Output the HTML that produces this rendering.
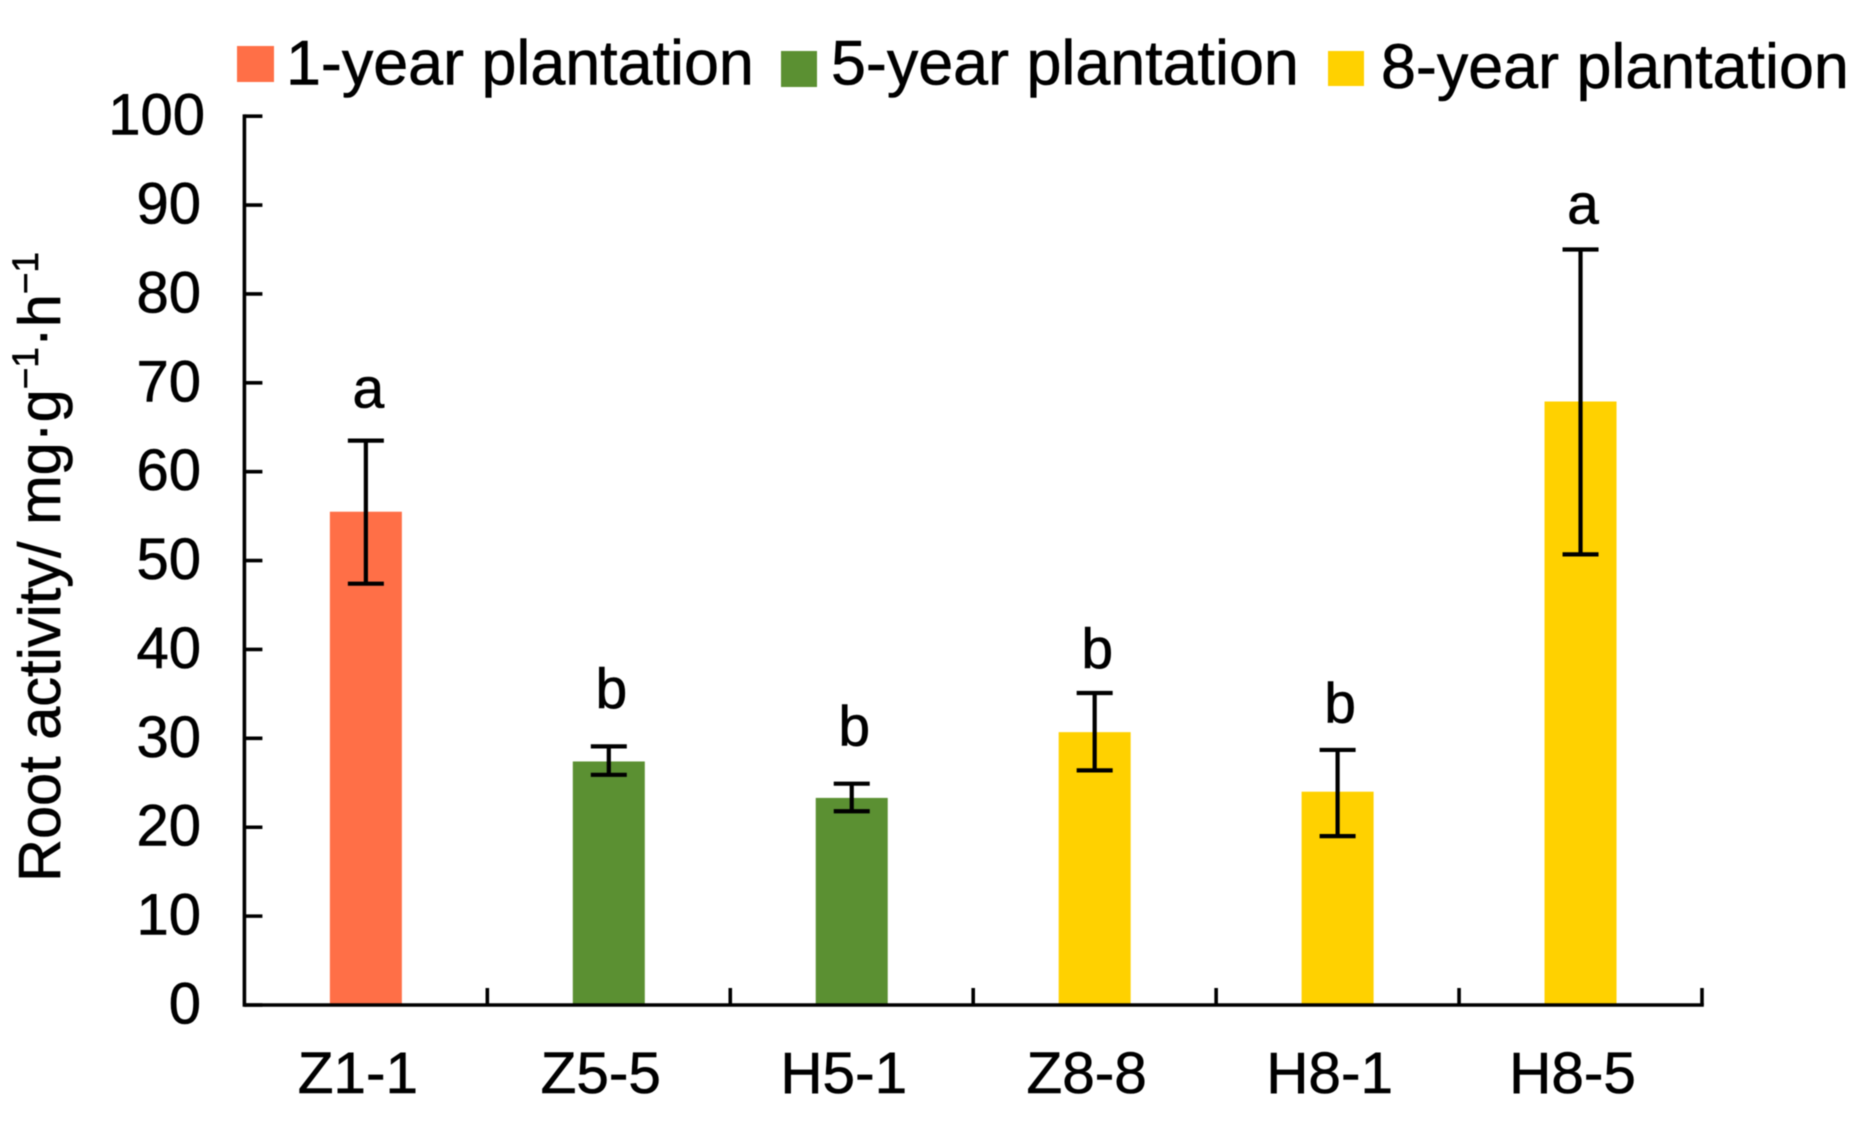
<!DOCTYPE html>
<html>
<head>
<meta charset="utf-8">
<title>Root activity chart</title>
<style>
html,body{margin:0;padding:0;background:#fff;width:1856px;height:1128px;overflow:hidden}
svg{display:block;filter:blur(0.5px)}
text{font-family:"Liberation Sans",Arial,sans-serif;fill:#000;stroke:#000;stroke-width:0.6px}
</style>
</head>
<body>
<svg id="chart" width="1856" height="1128" viewBox="0 0 1856 1128" xmlns="http://www.w3.org/2000/svg">
  <rect x="0" y="0" width="1856" height="1128" fill="#ffffff"/>
  <g>
    <g>
      <rect x="237" y="46" width="37" height="36" fill="#FF6F47"/>
      <text x="286" y="84.5" font-size="62.8">1-year plantation</text>
    </g>
    <g>
      <rect x="781" y="51" width="36" height="36" fill="#5B9032"/>
      <text x="831" y="84.5" font-size="62.8">5-year plantation</text>
    </g>
    <g>
      <rect x="1328" y="51" width="36" height="35" fill="#FFD100"/>
      <text x="1381" y="88" font-size="62.8">8-year plantation</text>
    </g>
  </g>
  <text transform="translate(60,882) rotate(-90)" font-size="59.5">Root activity/ mg·g<tspan font-size="37" dy="-22">−1</tspan><tspan dy="22">·h</tspan><tspan font-size="37" dy="-22">−1</tspan></text>
  <g id="bars"></g>
  <g id="errors"></g>
  <g id="axes"></g>
  <g id="letters"></g>
</svg>
<script>
const categories = ["Z1-1", "Z5-5", "H5-1", "Z8-8", "H8-1", "H8-5"];
const rootActivity = [55.5, 27.4, 23.3, 30.7, 24.0, 67.9];
const errorHigh = [63.5, 29.1, 24.9, 35.1, 28.7, 85.0];
const errorLow = [47.4, 25.9, 21.8, 26.4, 19.0, 50.7];
const plantationGroup = ["1-year", "5-year", "5-year", "8-year", "8-year", "8-year"];
const significance = ["a", "b", "b", "b", "b", "a"];
const significanceGap = [3.7, 4.3, 4.3, 2.8, 3.1, 2.9];
const yTickLabels = [0, 10, 20, 30, 40, 50, 60, 70, 80, 90, 100];

const groupColor = {"1-year": "#FF6F47", "5-year": "#5B9032", "8-year": "#FFD100"};
const plot = {left: 244.4, right: 1702, top: 116.2, bottom: 1005};
const yMax = 100;
function yScale(v) { return plot.bottom - (v / yMax) * (plot.bottom - plot.top); }
function bandWidth() { return (plot.right - plot.left) / categories.length; }
function xEdge(i) { return plot.left + i * bandWidth(); }
function xCenter(i) { return xEdge(i) + bandWidth() / 2; }

const NS = "http://www.w3.org/2000/svg";
function make(parent, tag, props, content) {
  const el = document.createElementNS(NS, tag);
  Object.keys(props).forEach(function (k) { el.setAttribute(k, props[k]); });
  if (content !== undefined) el.textContent = content;
  parent.appendChild(el);
  return el;
}
const barsG = document.getElementById("bars");
const errorsG = document.getElementById("errors");
const axesG = document.getElementById("axes");
const lettersG = document.getElementById("letters");
const barW = 72, capW = 36, lineW = 3.6, errW = 4.2;

categories.forEach(function (cat, i) {
  const c = xCenter(i);
  const key = cat.toLowerCase();
  const bar = make(barsG, "rect", {x: c - barW / 2, y: yScale(rootActivity[i]), width: barW, height: plot.bottom - yScale(rootActivity[i]), fill: groupColor[plantationGroup[i]]});
  
  

  const stem = make(errorsG, "line", {x1: c, x2: c, y1: yScale(errorHigh[i]), y2: yScale(errorLow[i]), stroke: "#000", "stroke-width": errW});
  
  
  const capHigh = make(errorsG, "line", {x1: c - capW / 2, x2: c + capW / 2, y1: yScale(errorHigh[i]), y2: yScale(errorHigh[i]), stroke: "#000", "stroke-width": errW});
  
  
  const capLow = make(errorsG, "line", {x1: c - capW / 2, x2: c + capW / 2, y1: yScale(errorLow[i]), y2: yScale(errorLow[i]), stroke: "#000", "stroke-width": errW});
  
  

  const letter = make(lettersG, "text", {x: c + 2.5, y: yScale(errorHigh[i] + significanceGap[i]), "font-size": 57, "text-anchor": "middle"}, significance[i]);
  
  

  const label = make(axesG, "text", {x: c - 8, y: 1093, "font-size": 58.5, "text-anchor": "middle"}, cat);
  
  

  const tick = make(axesG, "line", {x1: xEdge(i + 1), x2: xEdge(i + 1), y1: plot.bottom, y2: plot.bottom - 17, stroke: "#000", "stroke-width": lineW});
  
  
});

yTickLabels.forEach(function (v) {
  const y = yScale(v);
  const tick = make(axesG, "line", {x1: plot.left, x2: plot.left + 18, y1: y, y2: y, stroke: "#000", "stroke-width": lineW});
  
  
  const label = make(axesG, "text", {x: v >= 100 ? 205 : 201, y: y + 18.5, "font-size": 58, "text-anchor": "end"}, String(v));
  
  
});

const yAxis = make(axesG, "line", {x1: plot.left, x2: plot.left, y1: yScale(yMax) - 1.8, y2: plot.bottom + 1.8, stroke: "#000", "stroke-width": lineW});


const xAxis = make(axesG, "line", {x1: plot.left, x2: plot.right + 1.8, y1: plot.bottom, y2: plot.bottom, stroke: "#000", "stroke-width": lineW});


</script>
</body>
</html>
